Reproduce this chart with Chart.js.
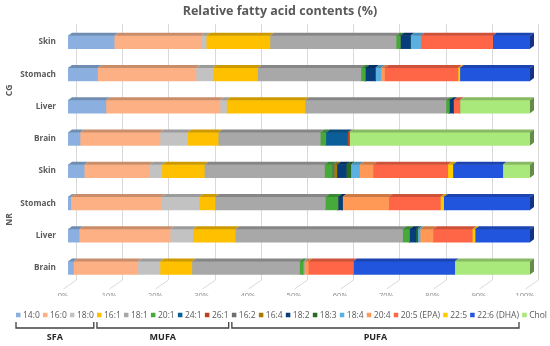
<!DOCTYPE html>
<html><head><meta charset="utf-8">
<script src="https://cdn.jsdelivr.net/npm/chart.js@4/dist/chart.umd.min.js"></script>
<style>html,body{margin:0;padding:0;background:#fff}#wrap{width:550px;height:346px;position:relative}</style>
</head><body><div id="wrap"><canvas id="c" width="550" height="346"></canvas></div>
<script>
// ---- data ----
const categories = ['Skin', 'Stomach', 'Liver', 'Brain', 'Skin', 'Stomach', 'Liver', 'Brain'];
const groups = ['CG', 'NR'];
const groupSize = 4;
const chartTitle = 'Relative fatty acid contents (%)';
const xTickValues = [0, 10, 20, 30, 40, 50, 60, 70, 80, 90, 100];

const seriesNames = ['14:0', '16:0', '18:0', '16:1', '18:1', '20:1', '24:1', '26:1', '16:2', '16:4',
  '18:2', '18:3', '18:4', '20:4', '20:5 (EPA)', '22:5', '22:6 (DHA)', 'Chol'];

// order: CG Skin, CG Stomach, CG Liver, CG Brain, NR Skin, NR Stomach, NR Liver, NR Brain
const v14_0 = [10.0, 6.4, 8.2, 2.6, 3.5, 0.6, 2.4, 1.2];
const v16_0 = [18.8, 21.3, 24.7, 17.3, 14.1, 19.6, 19.7, 13.9];
const v18_0 = [1.1, 3.6, 1.4, 6.0, 2.7, 8.2, 4.9, 4.8];
const v16_1 = [13.8, 9.7, 17.0, 6.6, 9.2, 3.4, 9.2, 6.9];
const v18_1 = [27.3, 22.4, 30.5, 22.1, 26.0, 23.9, 36.2, 23.3];
const v20_1 = [0.9, 0.9, 0.7, 1.2, 1.7, 2.7, 1.5, 0.7];
const v24_1 = [0, 0, 0, 4.7, 0, 0, 0, 0];
const v26_1 = [0, 0, 0, 0.3, 0, 0, 0, 0];
const v16_2 = [0, 0, 0, 0, 0.4, 0, 0, 0];
const v16_4 = [0, 0, 0, 0, 0.6, 0, 0, 0];
const v18_2 = [2.2, 2.2, 0.9, 0, 2.0, 1.0, 1.4, 0];
const v18_3 = [0, 0, 0, 0, 1.0, 0, 0.4, 0];
const v18_4 = [2.2, 1.2, 0, 0, 1.9, 0, 0.5, 0.3];
const v20_4 = [0, 0.8, 0, 0, 2.9, 10.0, 2.8, 0.9];
const v20_5 = [15.6, 15.9, 1.4, 0, 16.2, 11.2, 8.5, 9.7];
const v22_5 = [0, 0.4, 0, 0, 1.1, 0.7, 0.6, 0];
const v22_6 = [8.1, 15.2, 0, 0, 10.8, 18.7, 11.9, 22.0];
const vChol = [0, 0, 15.2, 39.2, 5.9, 0, 0, 16.3];

const seriesValues = [v14_0, v16_0, v18_0, v16_1, v18_1, v20_1, v24_1, v26_1, v16_2, v16_4,
  v18_2, v18_3, v18_4, v20_4, v20_5, v22_5, v22_6, vChol];

const seriesColors = ['#8BB0E0', '#FCB084', '#C2C2C2', '#FFC000', '#A8A8A8', '#47A93A', '#0B5E97', '#C0401E',
  '#6E6E6E', '#A87C00', '#063D7A', '#2A6B23', '#5BB0E2', '#FF9955', '#FF6647', '#FFCC00', '#2255DD', '#A9E87A'];

const legendGroups = [
  { label: 'SFA', from: 0, to: 2 },
  { label: 'MUFA', from: 3, to: 7 },
  { label: 'PUFA', from: 8, to: 16 }
];

const FONT = '"Open Sans", "Noto Sans", sans-serif';

function shade(hex, f) {
  const n = parseInt(hex.slice(1), 16);
  const r = Math.round(((n >> 16) & 255) * f), g = Math.round(((n >> 8) & 255) * f), b = Math.round((n & 255) * f);
  return 'rgb(' + r + ',' + g + ',' + b + ')';
}

const depthPlugin = {
  id: 'depth3d',
  beforeDatasetsDraw(chart) {
    const ctx = chart.ctx, xs = chart.scales.x, a = chart.chartArea;
    ctx.save();
    ctx.strokeStyle = '#D9D9D9';
    ctx.lineWidth = 1;
    xTickValues.forEach(v => {
      const xf = Math.round(xs.getPixelForValue(v)) + 0.5;
      ctx.beginPath();
      ctx.moveTo(xf + 8, a.top - 2);
      ctx.lineTo(xf + 8, a.bottom - 4);
      ctx.lineTo(xf - 5, a.bottom + 5);
      ctx.stroke();
    });
    ctx.restore();
  },
  afterDatasetsDraw(chart) {
    const ctx = chart.ctx, dx = 4, dy = 3;
    const lastIdx = categories.map(() => -1);
    chart.data.datasets.forEach((ds, i) => ds.data.forEach((v, j) => { if (v > 0) lastIdx[j] = i; }));
    ctx.save();
    chart.data.datasets.forEach((ds, i) => {
      const meta = chart.getDatasetMeta(i);
      meta.data.forEach((bar, j) => {
        const v = ds.data[j];
        if (!(v > 0)) return;
        const x0 = Math.min(bar.base, bar.x), x1 = Math.max(bar.base, bar.x);
        const yt = bar.y - bar.height / 2, yb = bar.y + bar.height / 2;
        ctx.fillStyle = shade(ds.backgroundColor, 0.8);
        ctx.beginPath();
        ctx.moveTo(x0, yt); ctx.lineTo(x1, yt); ctx.lineTo(x1 + dx, yt - dy); ctx.lineTo(x0 + dx, yt - dy);
        ctx.closePath(); ctx.fill();
        if (i === lastIdx[j]) {
          ctx.fillStyle = shade(ds.backgroundColor, 0.6);
          ctx.beginPath();
          ctx.moveTo(x1, yt); ctx.lineTo(x1 + dx, yt - dy); ctx.lineTo(x1 + dx, yb - dy); ctx.lineTo(x1, yb);
          ctx.closePath(); ctx.fill();
        }
      });
    });
    ctx.restore();
  },
  afterDraw(chart) {
    const ctx = chart.ctx, ys = chart.scales.y;
    ctx.save();
    // title
    ctx.fillStyle = '#595959';
    ctx.font = 'bold 12.5px ' + FONT;
    ctx.textAlign = 'center';
    ctx.textBaseline = 'middle';
    ctx.fillText(chartTitle, 280, 11);
    // group labels
    ctx.font = 'bold 8.5px ' + FONT;
    groups.forEach((g, gi) => {
      const yA = ys.getPixelForValue(gi * groupSize), yB = ys.getPixelForValue(gi * groupSize + groupSize - 1);
      ctx.save();
      ctx.translate(10, (yA + yB) / 2);
      ctx.rotate(-Math.PI / 2);
      ctx.fillText(g, 0, 0);
      ctx.restore();
    });
    // legend
    const box = 4.5, gapBT = 2.5, startX = 16, endX = 547, ly = 315;
    ctx.font = '8.5px ' + FONT;
    const tw = seriesNames.map(s => ctx.measureText(s).width);
    const iw = tw.map(w => box + gapBT + w);
    const sum = iw.reduce((p, c) => p + c, 0);
    const gap = (endX - startX - sum) / (seriesNames.length - 1);
    const pos = [];
    let x = startX;
    seriesNames.forEach((s, i) => {
      pos.push({ left: x, right: x + iw[i] });
      ctx.fillStyle = seriesColors[i];
      ctx.fillRect(x, ly - box / 2, box, box);
      ctx.fillStyle = '#595959';
      ctx.textAlign = 'left';
      ctx.fillText(s, x + box + gapBT, ly + 0.5);
      x += iw[i] + gap;
    });
    // brackets
    ctx.strokeStyle = '#404040';
    ctx.lineWidth = 1.3;
    ctx.fillStyle = '#262626';
    ctx.font = 'bold 9px ' + FONT;
    ctx.textAlign = 'center';
    legendGroups.forEach(gr => {
      const l = pos[gr.from].left, r = pos[gr.to].right;
      ctx.beginPath();
      ctx.moveTo(l, 322); ctx.lineTo(l, 328); ctx.lineTo(r, 328); ctx.lineTo(r, 322);
      ctx.stroke();
      ctx.fillText(gr.label, (l + r) / 2, 337);
    });
    ctx.restore();
  }
};

const datasets = seriesNames.map((name, i) => ({
  label: name,
  data: seriesValues[i],
  backgroundColor: seriesColors[i],
  borderWidth: 0,
  barThickness: 13
}));

new Chart(document.getElementById('c'), {
  type: 'bar',
  data: { labels: categories, datasets },
  options: {
    indexAxis: 'y',
    responsive: false,
    animation: false,
    devicePixelRatio: 1,
    layout: { padding: { left: 0, right: 20, top: 26, bottom: 50 } },
    plugins: {
      legend: { display: false },
      tooltip: { enabled: false },
      title: { display: false }
    },
    scales: {
      x: {
        stacked: true, min: 0, max: 100,
        afterBuildTicks(s) { s.ticks = xTickValues.map(v => ({ value: v })); },
        afterFit(s) { s.height = 12; },
        grid: { display: false, drawTicks: false },
        border: { display: false },
        ticks: { callback: v => v + '%', color: '#8C8C8C', font: { family: FONT, size: 7.5 }, padding: 7, labelOffset: -5, maxRotation: 0 }
      },
      y: {
        stacked: true,
        afterFit(s) { s.width = 68; },
        grid: { display: false, drawTicks: false },
        border: { display: false },
        ticks: { color: '#595959', font: { family: FONT, size: 8.2, weight: 'bold' }, padding: 12 }
      }
    }
  },
  plugins: [depthPlugin]
});
</script></body></html>
